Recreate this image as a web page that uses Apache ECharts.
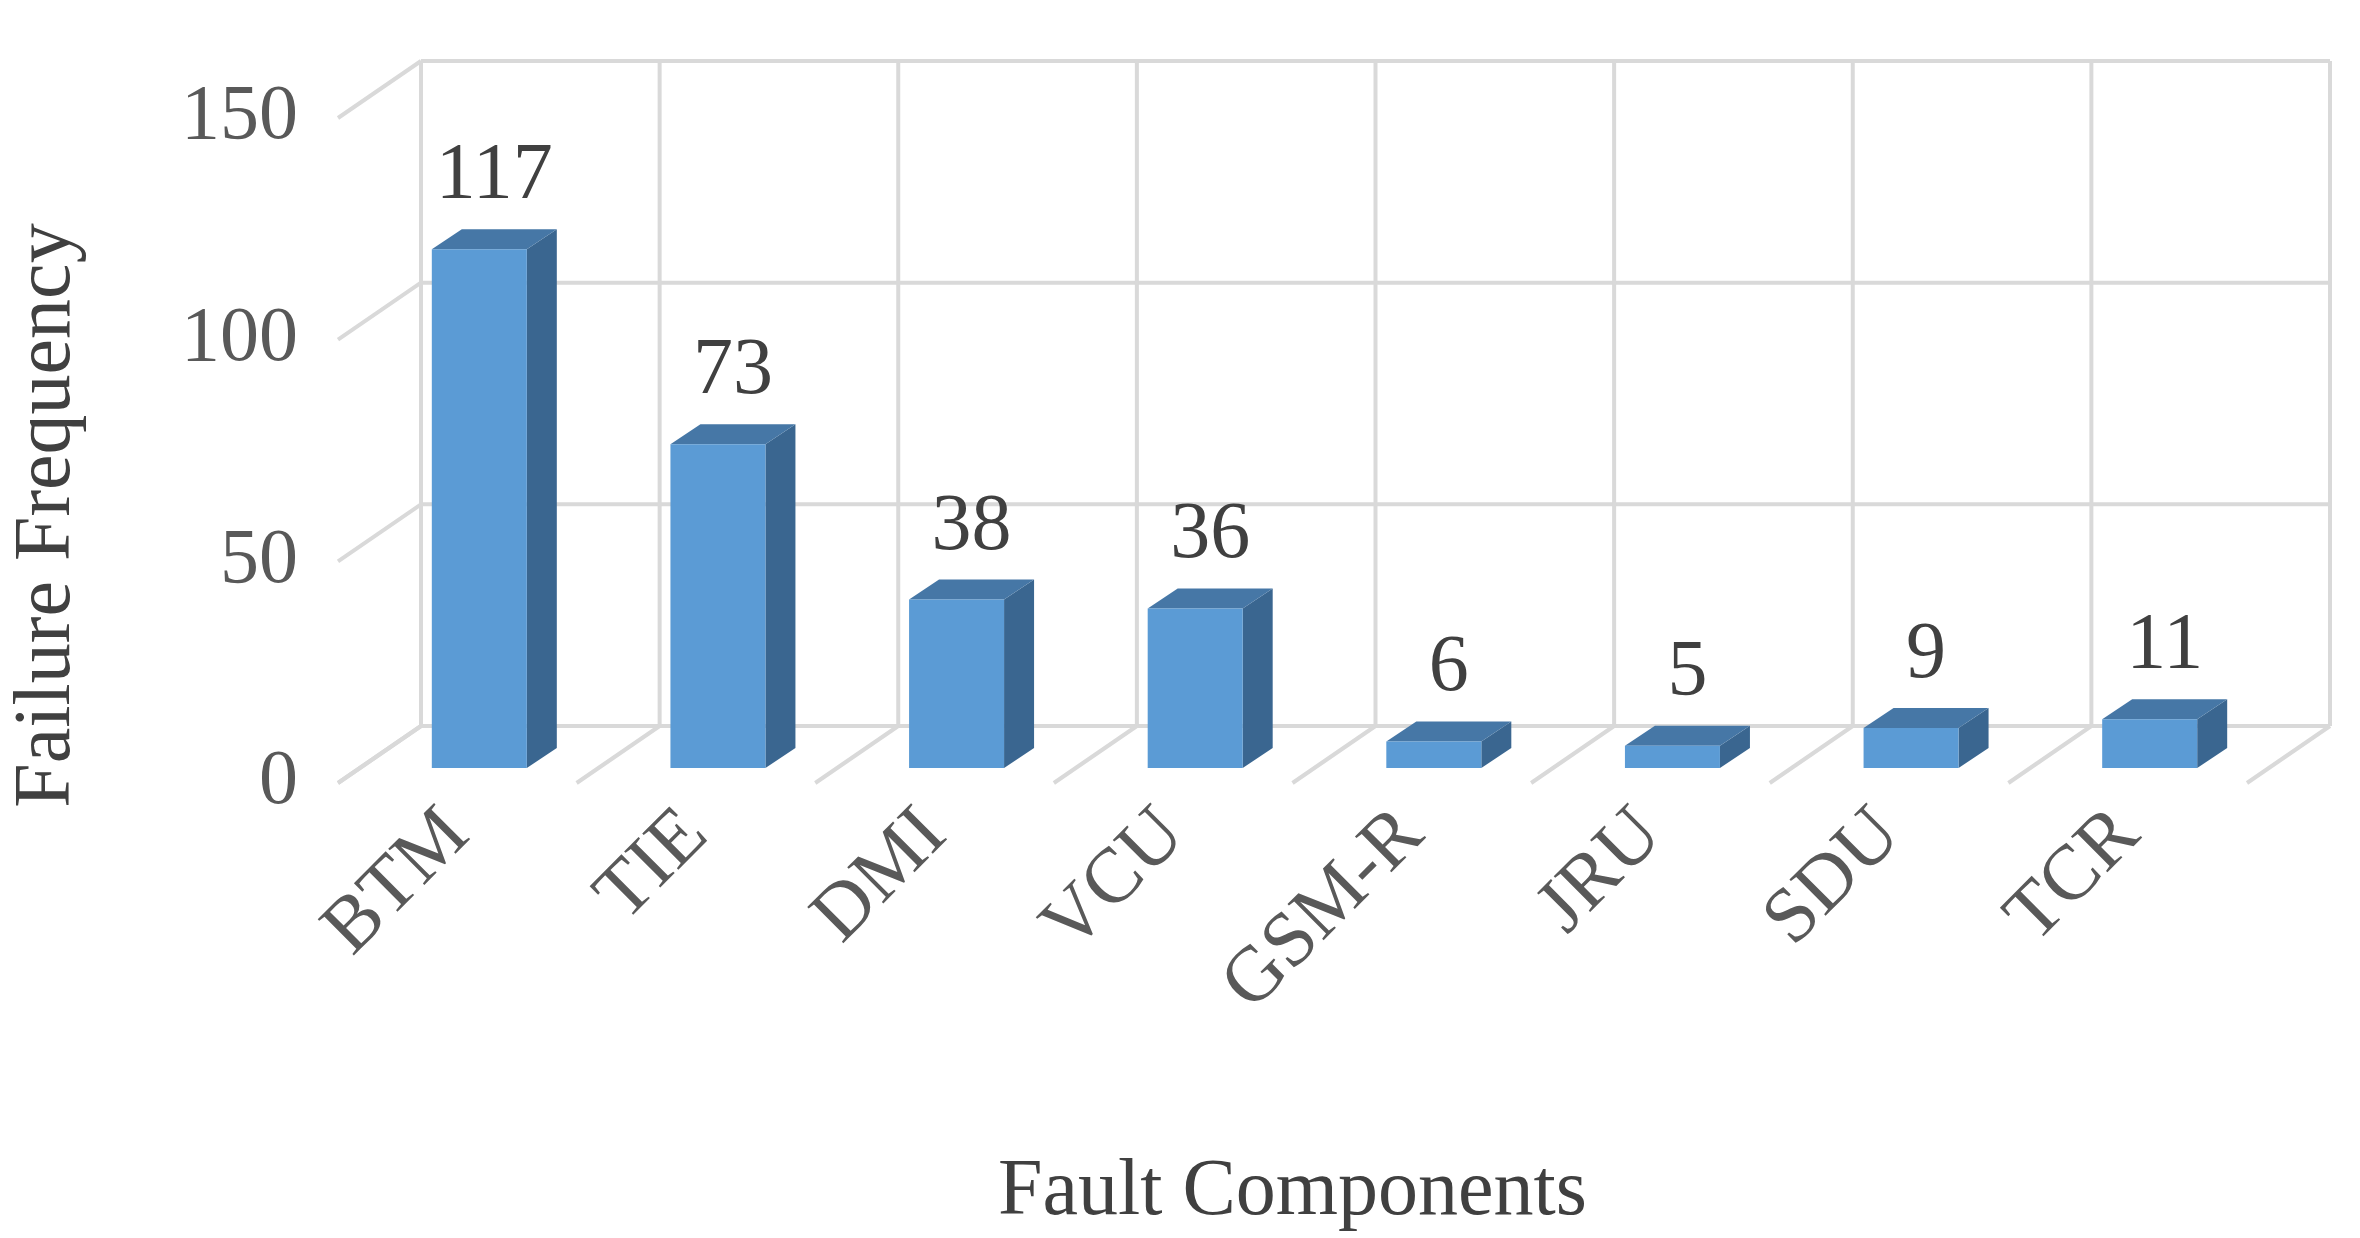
<!DOCTYPE html>
<html><head><meta charset="utf-8">
<script src="https://cdn.jsdelivr.net/npm/echarts@6/dist/echarts.min.js"></script>
<style>html,body{margin:0;background:#fff}#c{width:2360px;height:1238px}</style>
</head><body><div id="c"></div>
<script>
const categories = ['BTM', 'TIE', 'DMI', 'VCU', 'GSM-R', 'JRU', 'SDU', 'TCR']
const failures = [117, 73, 38, 36, 6, 5, 9, 11]
const yTicks = [0, 50, 100, 150]

const WALL_DX = 83, WALL_DY = -57
const BAR_DX = 22, BAR_DY = -15
const BAR_W = 95, DEPTH_DX = 30, DEPTH_DY = -20
const gridColor = '#d9d9d9'
const font = 'Liberation Serif'

const chart = echarts.init(document.getElementById('c'))

function line(x1, y1, x2, y2) {
  return { type: 'line', shape: { x1, y1, x2, y2 }, style: { stroke: gridColor, lineWidth: 4 }, silent: true }
}

function renderWall(params, api) {
  if (params.dataIndex !== 0) return
  const band = api.size([1, 0])[0]
  const kids = []
  const left = api.coord([0, 0])[0] - band / 2
  const right = api.coord([categories.length - 1, 0])[0] + band / 2
  const top = api.coord([0, 150])[1]
  const bottom = api.coord([0, 0])[1]
  yTicks.forEach(function (t) {
    const y = api.coord([0, t])[1]
    kids.push(line(left + WALL_DX, y + WALL_DY, right + WALL_DX, y + WALL_DY))
    kids.push(line(left, y, left + WALL_DX, y + WALL_DY))
  })
  for (let i = 0; i <= categories.length; i++) {
    const x = left + i * band
    kids.push(line(x + WALL_DX, top + WALL_DY, x + WALL_DX, bottom + WALL_DY))
    kids.push(line(x, bottom, x + WALL_DX, bottom + WALL_DY))
  }
  return { type: 'group', children: kids }
}

function renderBar(params, api) {
  const c0 = api.coord([api.value(0), 0])
  const c1 = api.coord([api.value(0), api.value(1)])
  const x = c0[0] - BAR_W / 2 + BAR_DX
  const yb = c0[1] + BAR_DY
  const yt = c1[1] + BAR_DY
  const xr = x + BAR_W
  return {
    type: 'group',
    children: [
      { type: 'polygon', shape: { points: [[xr, yb], [xr + DEPTH_DX, yb + DEPTH_DY], [xr + DEPTH_DX, yt + DEPTH_DY], [xr, yt]] }, style: { fill: '#3a6690' } },
      { type: 'polygon', shape: { points: [[x, yt], [xr, yt], [xr + DEPTH_DX, yt + DEPTH_DY], [x + DEPTH_DX, yt + DEPTH_DY]] }, style: { fill: '#4677a6' } },
      { type: 'rect', shape: { x: x, y: yt, width: BAR_W, height: yb - yt }, style: { fill: '#5b9bd5' } },
      { type: 'text', style: { text: String(api.value(1)), x: x + BAR_W / 2 + DEPTH_DX / 2, y: yt + DEPTH_DY - 12, align: 'center', verticalAlign: 'bottom', fill: '#404040', font: '80px "' + font + '"' } }
    ]
  }
}

chart.setOption({
  animation: false,
  grid: { left: 333, right: 113, top: 118, bottom: 439 },
  xAxis: {
    type: 'category', data: categories,
    axisLine: { show: false }, axisTick: { show: false },
    axisLabel: { rotate: 45, fontFamily: font, fontSize: 78, color: '#595959', margin: 40 },
    name: 'Fault Components', nameLocation: 'middle', nameGap: 370,
    nameTextStyle: { fontFamily: font, fontSize: 80, color: '#404040' }
  },
  yAxis: {
    type: 'value', min: 0, max: 150, interval: 50,
    splitLine: { show: false }, axisLine: { show: false },
    axisLabel: { fontFamily: font, fontSize: 78, color: '#595959', margin: 40 },
    name: 'Failure Frequency', nameLocation: 'middle', nameGap: 250,
    nameTextStyle: { fontFamily: font, fontSize: 80, color: '#404040', padding: [0, 130, 0, 0] }
  },
  series: [
    { type: 'custom', renderItem: renderWall, data: categories.map((c, i) => [i, 0]), z: 1, silent: true },
    { type: 'custom', renderItem: renderBar, data: failures.map((v, i) => [i, v]), encode: { x: 0, y: 1 }, z: 2 }
  ]
})
</script></body></html>
